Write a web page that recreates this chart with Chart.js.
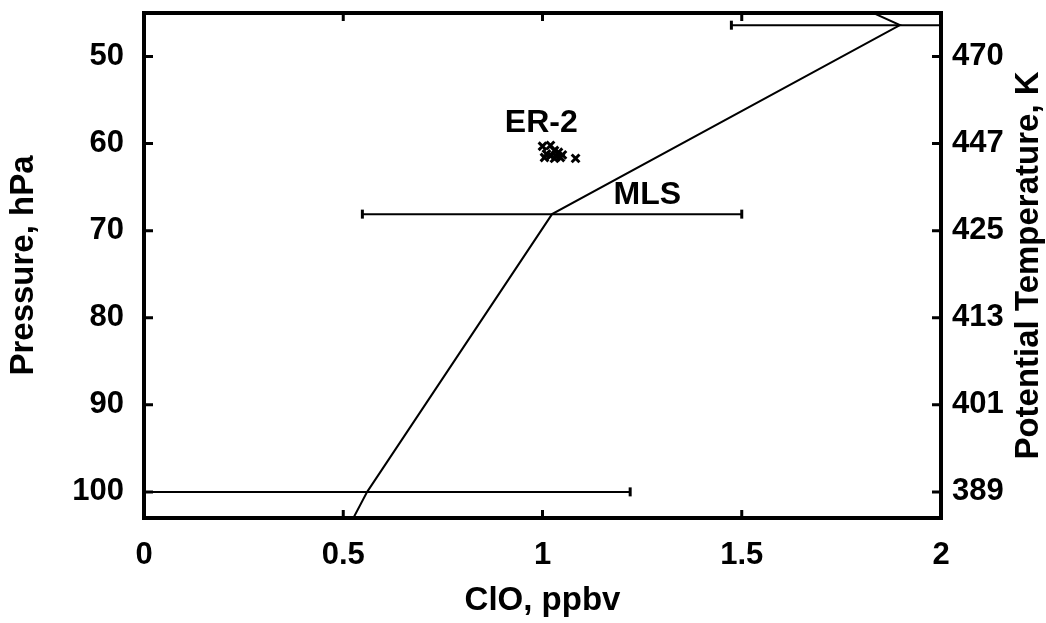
<!DOCTYPE html>
<html>
<head>
<meta charset="utf-8">
<script src="https://cdn.jsdelivr.net/npm/chart.js@4/dist/chart.umd.min.js"></script>
<style>
  html, body { margin: 0; padding: 0; background: #fff; }
  #wrap { width: 1046px; height: 623px; position: relative; }
</style>
</head>
<body>
<div id="wrap"><canvas id="grafica"></canvas></div>
<script>
// MLS retrieval levels (hPa) and ClO profile, ppbv
const mlsPresion = [146.8, 100, 68.1, 46.4, 31.6];
const mlsClo = [0.02, 0.56, 1.024, 1.897, 1.19];
const mlsError = [null, 0.66, 0.476, 0.423, null];

// ER-2 in situ ClO near 61 hPa
const er2Clo = [1.00, 1.01, 1.02, 1.005, 1.02, 1.03, 1.035, 1.04, 1.045, 1.05, 1.03, 1.083];
const er2Presion = [60.3, 61.2, 60.2, 61.6, 61.4, 60.8, 61.5, 61.0, 61.6, 61.3, 61.7, 61.7];

// ticks
const presionTicks = [50, 60, 70, 80, 90, 100];
const thetaLabels = ['470', '447', '425', '413', '401', '389'];
const cloTicks = [0, 0.5, 1, 1.5, 2];
const cloLabels = ['0', '0.5', '1', '1.5', '2'];

// text labels placed in data units
const etiquetas = [
  { texto: 'ER-2', x: 0.997, y: 57.6 },
  { texto: 'MLS', x: 1.263, y: 65.9 }
];

Chart.defaults.font.family = "'Liberation Sans', Arial, sans-serif";
Chart.defaults.font.weight = 'bold';
Chart.defaults.color = '#000';

const perfil = mlsPresion.map((p, i) => ({ x: mlsClo[i], y: p }));
const barras = [];
mlsPresion.forEach((p, i) => {
  if (mlsError[i] == null) return;
  barras.push({
    type: 'line',
    data: [{ x: mlsClo[i] - mlsError[i], y: p }, { x: mlsClo[i] + mlsError[i], y: p }],
    borderColor: '#000',
    borderWidth: 2,
    pointStyle: 'line',
    rotation: 90,
    pointRadius: 4.5,
    pointBorderWidth: 3,
    pointBorderColor: '#000',
    pointHoverRadius: 0
  });
});

// sin relleno extra arriba/abajo por las etiquetas
const sinPadding = s => { s.paddingTop = 0; s.paddingBottom = 0; };

// marco, marcas hacia dentro y textos
const marcoPlugin = {
  id: 'marco',
  afterDraw(chart) {
    const ctx = chart.ctx;
    const a = chart.chartArea;
    const sx = chart.scales.x, sy = chart.scales.y;
    ctx.save();
    ctx.strokeStyle = '#000';
    ctx.lineWidth = 3;
    presionTicks.forEach(p => {
      const py = sy.getPixelForValue(p);
      ctx.beginPath();
      ctx.moveTo(a.left, py); ctx.lineTo(a.left + 9, py);
      ctx.moveTo(a.right, py); ctx.lineTo(a.right - 9, py);
      ctx.stroke();
    });
    cloTicks.slice(1, -1).forEach(v => {
      const px = sx.getPixelForValue(v);
      ctx.beginPath();
      ctx.moveTo(px, a.bottom); ctx.lineTo(px, a.bottom - 8);
      ctx.moveTo(px, a.top); ctx.lineTo(px, a.top + 8);
      ctx.stroke();
    });
    ctx.lineWidth = 4;
    ctx.strokeRect(a.left, a.top, a.right - a.left, a.bottom - a.top);

    ctx.fillStyle = '#000';
    ctx.textAlign = 'center';
    ctx.textBaseline = 'middle';
    ctx.font = "bold 32px 'Liberation Sans', Arial, sans-serif";
    etiquetas.forEach(e => {
      ctx.fillText(e.texto, sx.getPixelForValue(e.x), sy.getPixelForValue(e.y));
    });

    ctx.font = "bold 33px 'Liberation Sans', Arial, sans-serif";
    ctx.translate(1029, (a.top + a.bottom) / 2);
    ctx.rotate(-Math.PI / 2);
    ctx.fillText('Potential Temperature, K', 0, 0);
    ctx.restore();
  }
};

const ctx = document.getElementById('grafica').getContext('2d');
new Chart(ctx, {
  type: 'scatter',
  data: {
    datasets: [
      {
        type: 'line',
        data: perfil,
        borderColor: '#000',
        borderWidth: 2,
        pointRadius: 0,
        tension: 0
      },
      ...barras,
      {
        data: er2Clo.map((c, i) => ({ x: c, y: er2Presion[i] })),
        pointStyle: 'crossRot',
        pointRadius: 5.5,
        pointBorderWidth: 3,
        borderColor: '#000',
        backgroundColor: '#000'
      }
    ]
  },
  options: {
    responsive: true,
    maintainAspectRatio: false,
    animation: false,
    layout: { padding: { top: 13, left: 0, right: 0, bottom: 0 } },
    plugins: { legend: { display: false }, tooltip: { enabled: false } },
    scales: {
      x: {
        type: 'linear',
        min: 0,
        max: 2,
        grid: { display: false, drawTicks: false },
        border: { display: false },
        afterBuildTicks: s => { s.ticks = cloTicks.map(v => ({ value: v })); },
        afterFit: s => { s.height = 105; s.paddingLeft = 0; s.paddingRight = 0; },
        ticks: {
          font: { size: 31 },
          padding: 19,
          autoSkip: false,
          maxRotation: 0,
          callback: v => cloLabels[cloTicks.indexOf(v)]
        },
        title: {
          display: true,
          text: 'ClO, ppbv',
          font: { size: 33 },
          padding: { top: 0, bottom: 2 }
        }
      },
      y: {
        type: 'linear',
        position: 'left',
        reverse: true,
        min: 45,
        max: 103,
        grid: { display: false, drawTicks: false },
        border: { display: false },
        afterBuildTicks: s => { s.ticks = presionTicks.map(v => ({ value: v })); },
        afterFit: s => { s.width = 144; sinPadding(s); },
        ticks: { font: { size: 31 }, padding: 20, autoSkip: false },
        title: {
          display: true,
          text: 'Pressure, hPa',
          font: { size: 33 },
          padding: { top: 4, bottom: 0 }
        }
      },
      y2: {
        type: 'linear',
        position: 'right',
        reverse: true,
        min: 45,
        max: 103,
        grid: { display: false, drawTicks: false },
        border: { display: false },
        afterBuildTicks: s => { s.ticks = presionTicks.map(v => ({ value: v })); },
        afterFit: s => { s.width = 105; sinPadding(s); },
        ticks: {
          font: { size: 31 },
          padding: 11,
          autoSkip: false,
          callback: v => thetaLabels[presionTicks.indexOf(v)]
        }
      }
    }
  },
  plugins: [marcoPlugin]
});
</script>
</body>
</html>
